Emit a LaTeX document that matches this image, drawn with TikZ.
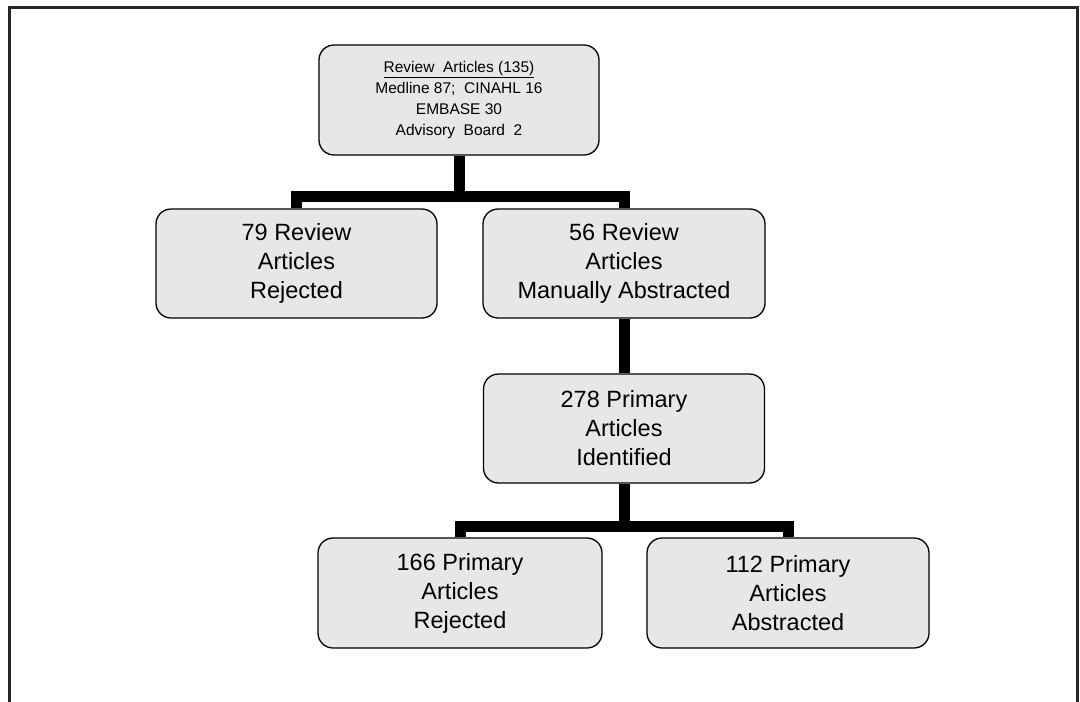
\documentclass[tikz,border=0pt]{standalone}
\usepackage{fontspec}
\setmainfont{Liberation Sans}
\begin{document}
\begin{tikzpicture}[x=1pt,y=-1pt,
  box/.style={draw=black,line width=1.3pt,fill=boxgray,rounded corners=15pt,
    align=center,inner sep=0pt,font=\fontsize{23.5}{29}\selectfont},
  topbox/.style={box,font=\fontsize{15.5}{21}\selectfont},
  conn/.style={draw=black,line width=11pt,line join=miter,line cap=butt}]
\definecolor{boxgray}{RGB}{230,231,232}
\useasboundingbox (0,0) rectangle (1080,702);
\fill[white] (0,0) rectangle (1080,702);
\draw[line width=3pt,draw=black!85] (9.5,702) -- (9.5,7.5) -- (1077.5,7.5) -- (1077.5,702);
% nodes
\node[topbox,minimum width=280pt,minimum height=110pt] (top) at (459,100)
  {\underline{Review\ \ Articles (135)}\\Medline 87;\ \ CINAHL 16\\EMBASE 30\\Advisory\ \ Board\ \ 2};
\node[box,minimum width=281pt,minimum height=109pt] (r79) at (296.5,263.5)
  {79 Review\\Articles\\Rejected};
\node[box,minimum width=282pt,minimum height=109pt] (r56) at (624,263.5)
  {56 Review\\Articles\\Manually Abstracted};
\node[box,minimum width=281pt,minimum height=109pt] (p278) at (624,428.5)
  {278 Primary\\Articles\\Identified};
\node[box,minimum width=284pt,minimum height=110pt] (p166) at (460,593)
  {166 Primary\\Articles\\Rejected};
\node[box,minimum width=282pt,minimum height=110pt] (p112) at (788,593)
  {112 Primary\\Articles\\Abstracted};
% connectors
\coordinate (bar1) at (0,196.5);
\coordinate (bar2) at (0,526);
\draw[conn] (top.south) -- (top.south |- bar1);
\draw[conn] (r79.north) -- (r79.north |- bar1) -- (r56.north |- bar1) -- (r56.north);
\draw[conn] (r56.south) -- (p278.north);
\draw[conn] (p278.south) -- (p278.south |- bar2);
\draw[conn] (p166.north) -- (p166.north |- bar2) -- (p112.north |- bar2) -- (p112.north);
\end{tikzpicture}
\end{document}
